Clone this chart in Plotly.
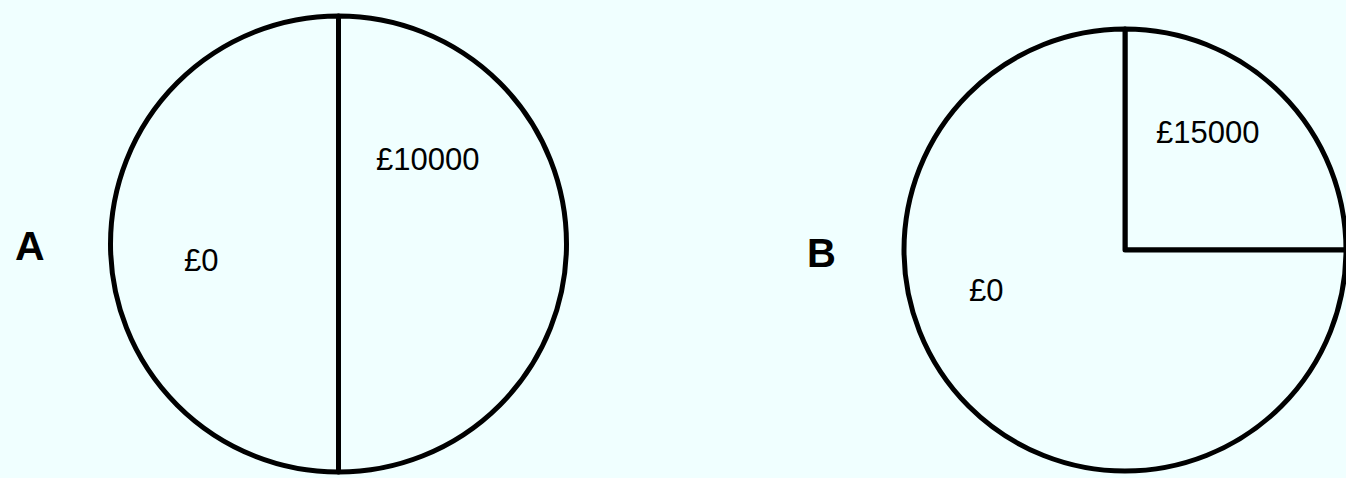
import plotly.graph_objects as go

# ---- data ----
pie_names = ["A", "B"]
a_labels = ["£10000", "£0"]
a_values = [50, 50]
b_labels = ["£15000", "£0"]
b_values = [25, 75]

BG = "#F0FFFF"
W, H = 1346, 478
FONT = "Arial, Liberation Sans, sans-serif"

def px_dom(cx, cy, r):
    # convert pixel centre/radius (from top-left) to paper domain
    return dict(x=[(cx - r) / W, (cx + r) / W],
                y=[(H - cy - r) / H, (H - cy + r) / H])

fig = go.Figure()
common = dict(sort=False, direction="clockwise", rotation=0,
              textinfo="none", hoverinfo="label+percent",
              showlegend=False)
fig.add_trace(go.Pie(labels=a_labels, values=a_values,
                     domain=px_dom(338.5, 244, 228),
                     marker=dict(colors=[BG, BG], line=dict(color="black", width=5)),
                     **common))
fig.add_trace(go.Pie(labels=b_labels, values=b_values,
                     domain=px_dom(1125, 250, 221),
                     marker=dict(colors=[BG, BG], line=dict(color="black", width=5)),
                     **common))

def ann(text, x, y, size, bold=False):
    fig.add_annotation(text=f"<b>{text}</b>" if bold else text,
                       x=x / W, y=1 - y / H, xref="paper", yref="paper",
                       xanchor="center", yanchor="middle", showarrow=False,
                       font=dict(family=FONT, size=size, color="black"))

ann(pie_names[0], 30, 246, 41, bold=True)
ann(pie_names[1], 821.5, 253, 40, bold=True)
ann(a_labels[0], 427.5, 159, 31)
ann(a_labels[1], 201, 260, 31)
ann(b_labels[0], 1207.5, 132.5, 31)
ann(b_labels[1], 986, 290.5, 31)

fig.update_layout(width=W, height=H, margin=dict(l=0, r=0, t=0, b=0),
                  paper_bgcolor=BG, plot_bgcolor=BG)
fig.write_html("out.html",
               config={"displayModeBar": False},
               post_script="document.body.style.margin='0';"
                           "document.body.style.overflow='hidden';")
